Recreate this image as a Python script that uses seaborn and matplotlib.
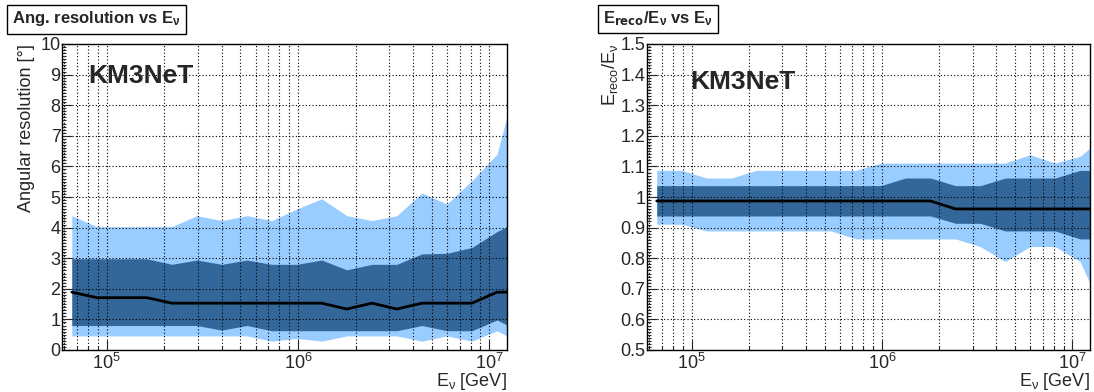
import numpy as np
import pandas as pd
import matplotlib
matplotlib.use("Agg")
import matplotlib.pyplot as plt
import matplotlib.ticker as mticker
import seaborn as sns

# neutrino energies [GeV] (bin centres, last entry = right edge of the axis)
energy = [6.56e4, 8.87e4, 1.20e5, 1.62e5, 2.19e5, 2.96e5, 4.00e5, 5.40e5, 7.30e5,
          9.87e5, 1.33e6, 1.80e6, 2.44e6, 3.29e6, 4.45e6, 6.01e6, 8.13e6, 1.10e7, 1.24e7]

# angular resolution [deg]
ang_median = [1.89, 1.71, 1.71, 1.71, 1.53, 1.53, 1.53, 1.53, 1.53, 1.53,
              1.53, 1.34, 1.53, 1.34, 1.53, 1.53, 1.53, 1.89, 1.89]
ang_lo68 = [0.80, 0.80, 0.80, 0.80, 0.80, 0.80, 0.65, 0.80, 0.63, 0.63,
            0.63, 0.63, 0.63, 0.63, 0.80, 0.63, 0.63, 0.98, 0.82]
ang_hi68 = [2.98, 2.98, 2.98, 2.98, 2.80, 2.94, 2.80, 2.94, 2.80, 2.80,
            2.94, 2.62, 2.80, 2.80, 3.14, 3.16, 3.35, 3.87, 4.03]
ang_lo90 = [0.46, 0.46, 0.46, 0.46, 0.46, 0.46, 0.46, 0.46, 0.29, 0.38,
            0.29, 0.46, 0.46, 0.46, 0.29, 0.46, 0.29, 0.63, 0.46]
ang_hi90 = [4.39, 4.03, 4.03, 4.03, 4.03, 4.39, 4.23, 4.39, 4.23, 4.61,
            4.94, 4.39, 4.23, 4.39, 5.13, 4.77, 5.53, 6.40, 7.63]

# energy ratio E_reco / E_nu
erat_median = [0.987, 0.987, 0.987, 0.987, 0.987, 0.987, 0.987, 0.987, 0.987, 0.987,
               0.987, 0.987, 0.961, 0.961, 0.961, 0.961, 0.961, 0.961, 0.961]
erat_lo68 = [0.938, 0.938, 0.938, 0.938, 0.938, 0.938, 0.938, 0.938, 0.938, 0.938,
             0.938, 0.938, 0.914, 0.914, 0.889, 0.889, 0.889, 0.863, 0.863]
erat_hi68 = [1.037, 1.037, 1.037, 1.037, 1.037, 1.037, 1.037, 1.037, 1.037, 1.037,
             1.062, 1.062, 1.037, 1.037, 1.062, 1.062, 1.062, 1.087, 1.087]
erat_lo90 = [0.911, 0.911, 0.889, 0.889, 0.889, 0.889, 0.889, 0.889, 0.863, 0.863,
             0.863, 0.863, 0.863, 0.838, 0.789, 0.838, 0.838, 0.789, 0.718]
erat_hi90 = [1.087, 1.087, 1.062, 1.062, 1.087, 1.087, 1.087, 1.087, 1.087, 1.111,
             1.111, 1.111, 1.111, 1.111, 1.111, 1.138, 1.111, 1.133, 1.160]

LIGHT = "#99ccff"
DARK = "#336699"
FONT = ["Liberation Sans", "DejaVu Sans"]

sns.set_style("ticks")
plt.rcParams["font.family"] = FONT
plt.rcParams["mathtext.default"] = "regular"

fig = plt.figure(figsize=(10.94, 3.92), dpi=100)
W, H = 1094, 392
ax1 = fig.add_axes([62 / W, 1 - 350 / H, 445 / W, 306 / H])
ax2 = fig.add_axes([647 / W, 1 - 350 / H, 443 / W, 306 / H])


def draw_panel(ax, med, lo68, hi68, lo90, hi90, ylim, ymajor, yminor):
    df = pd.DataFrame({"E": energy, "med": med})
    ax.fill_between(energy, lo90, hi90, color=LIGHT, lw=0, zorder=1)
    ax.fill_between(energy, lo68, hi68, color=DARK, lw=0, zorder=2)
    sns.lineplot(data=df, x="E", y="med", ax=ax, color="black", lw=2, zorder=3)
    ax.set_xscale("log")
    ax.set_xlim(5.83e4, 1.24e7)
    ax.set_ylim(*ylim)
    ax.yaxis.set_major_locator(mticker.MultipleLocator(ymajor))
    ax.yaxis.set_minor_locator(mticker.MultipleLocator(yminor))
    ax.yaxis.set_major_formatter(mticker.FormatStrFormatter("%g"))
    ax.xaxis.set_major_locator(mticker.LogLocator(base=10, numticks=10))
    ax.xaxis.set_minor_locator(mticker.LogLocator(base=10, subs=np.arange(2, 10), numticks=20))
    ax.xaxis.set_minor_formatter(mticker.NullFormatter())
    ax.xaxis.set_major_formatter(mticker.LogFormatterMathtext())
    ax.grid(True, which="major", axis="both", color="black", lw=0.8,
            linestyle=(0, (1, 2)), zorder=4)
    ax.grid(True, which="minor", axis="x", color="black", lw=0.8,
            linestyle=(0, (1, 2)), zorder=4)
    ax.set_axisbelow(False)
    ax.tick_params(which="major", direction="in", length=7, width=0.8,
                   labelsize=13, top=False, right=False)
    ax.tick_params(which="minor", direction="in", length=3, width=0.8,
                   top=False, right=False)
    ax.tick_params(axis="y", pad=1)
    ax.tick_params(axis="x", pad=2)
    for s in ax.spines.values():
        s.set_visible(True)
        s.set_linewidth(1.0)
        s.set_color("black")
        s.set_zorder(5)
    ax.set_xlabel(r"E$_{\nu}$ [GeV]", fontsize=13, loc="right", labelpad=-1)


draw_panel(ax1, ang_median, ang_lo68, ang_hi68, ang_lo90, ang_hi90, (0, 10), 1, 0.1)
draw_panel(ax2, erat_median, erat_lo68, erat_hi68, erat_lo90, erat_hi90, (0.5, 1.5), 0.1, 0.01)

ax1.set_ylabel("Angular resolution [°]", fontsize=13, loc="top", labelpad=4)
ax2.set_ylabel(r"E$_{reco}$/E$_{\nu}$", fontsize=13, loc="top", labelpad=0)

for ax, xt, yt in [(ax1, 0.058, 0.895), (ax2, 0.097, 0.875)]:
    ax.text(xt, yt, "KM3NeT", transform=ax.transAxes, fontsize=19,
            fontweight="bold", ha="left", va="center", zorder=6)

box = dict(boxstyle="square,pad=0.3", facecolor="white", edgecolor="black", lw=1)
fig.text(12 / W, 1 - 19 / H, r"Ang. resolution vs E$_{\nu}$", fontsize=12,
         fontweight="bold", ha="left", va="center", bbox=box)
fig.text(603 / W, 1 - 19 / H, r"E$_{\mathbf{reco}}$/E$_{\nu}$ vs E$_{\nu}$", fontsize=12,
         fontweight="bold", ha="left", va="center", bbox=box)

fig.savefig("out.png", dpi=100)
